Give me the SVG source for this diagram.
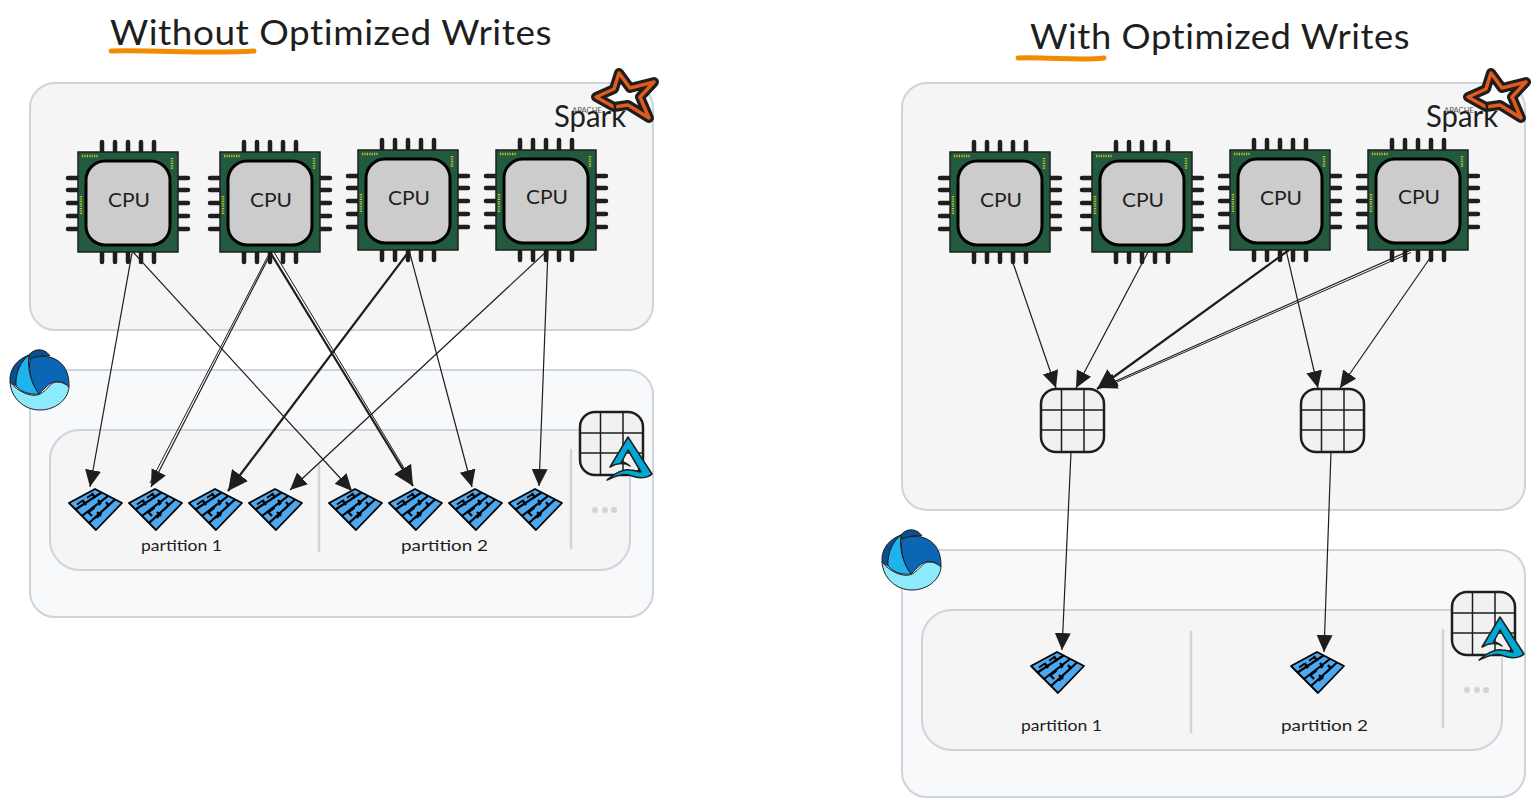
<svg xmlns="http://www.w3.org/2000/svg" width="1537" height="806" viewBox="0 0 1537 806">
<style>
text{font-family:"Lato","Noto Sans",sans-serif;fill:#1e1e1e}
.spark{fill:#f5f5f5;stroke:#ced4da;stroke-width:2}
.delta{fill:#f8f9fa;stroke:#ced4da;stroke-width:2}
.inner{fill:#f5f5f5;stroke:#ced4da;stroke-width:2}
.sep{fill:none;stroke:#ced4da;stroke-width:2.5;stroke-linecap:round}
.dot{fill:#ced4da}
.conn path{fill:none;stroke:#1e1e1e;stroke-width:1.2;marker-end:url(#ah)}
.conn path.thick{stroke-width:2.2;marker-end:url(#ahb)}
.conn path.ghost{marker-end:none;stroke-width:1}
.title{font-size:35px;letter-spacing:.5px}
.cpu{font-size:20px}
.part{font-size:15px}
.sp{font-size:30px}
.ap{font-size:8px;fill:#555}
.pin{stroke:#1e1e1e;stroke-width:4.500;stroke-linecap:round;fill:none}
.grid{fill:#f1f1f1;stroke:#1e1e1e;stroke-width:2.5}
.gl{stroke:#1e1e1e;stroke-width:1.500;fill:none}
.ul{fill:none;stroke:#f08c00;stroke-width:5;stroke-linecap:round}
.dk{stroke:#1e1e1e;stroke-width:1}
</style>
<defs>
<marker id="ah" markerUnits="userSpaceOnUse" markerWidth="20" markerHeight="18" refX="17" refY="8" orient="auto"><path d="M0 0L17 8L0 16Z" fill="#1e1e1e"/></marker>
<marker id="ahb" markerUnits="userSpaceOnUse" markerWidth="24" markerHeight="22" refX="20" refY="10" orient="auto"><path d="M0 0L20 10L0 20Z" fill="#1e1e1e"/></marker>
<g id="chip">
<path class="pin" d="M-26-60V-50M-13-60V-50M0-60V-50M13-60V-50M26-60V-50M-26 50V60M-13 50V60M0 50V60M13 50V60M26 50V60M-60-24H-50M-60-12H-50M-60 1H-50M-60 14H-50M-60 27H-50M50-24H60M50-12H60M50 1H60M50 14H60M50 27H60"/>
<rect x="-50" y="-50" width="100" height="100" fill="#215a3e" stroke="#1e1e1e" stroke-width="1.500"/>
<rect x="-42" y="-41" width="84" height="84" rx="19" fill="#cccccc" stroke="#000" stroke-width="3"/>
<path d="M-46-46H-30M44-44V-32M-47-6V12" stroke="#c9c32c" stroke-width="2.500" stroke-dasharray="1.200 1.200" fill="none"/>
</g>
<g id="pq">
<path d="M0-14L27 0L1 27L-26 0Z" fill="#4ea8f0" stroke="#000" stroke-width="1.800" stroke-linejoin="round"/>
<path d="M-19.500 6.500L6.500-10.500M-13 13L13-7M-6 20L20-3.500" stroke="#000" stroke-width="2.200" fill="none"/>
<path d="M-12.500-3L-9 2M-3-10L0-5M-7 9L-3 13M3-3L6 1M2 9L6 13M11-1L14 3" stroke="#000" stroke-width="2.200" fill="none"/>
<path d="M-18 1.500L-3-8.500M-6 9L5 1M2 15L16-1" stroke="#000" stroke-width="1.800" fill="none" stroke-dasharray="7 5"/>
</g>
<g id="tbl">
<rect x="0" y="0" width="63" height="63" rx="15" class="grid"/>
<path class="gl" d="M20.500 0V63M43 0V63M0 21H63M0 41H63"/>
</g>
<g id="dl">
<path class="dk" d="M-11-25C-7-31 4-33 10-24C4-25-4-24-10-20Z" fill="#0a4f8f"/>
<path class="dk" d="M-10-21C6-28 30-22 29 7C22 0 13-1 5 8C3 10 0 13-1 14C-8 5-12-8-10-21Z" fill="#0b66b5"/>
<path class="dk" d="M-11-25C-22-21-31-12-30 2L-24 6C-24-8-18-20-11-25Z" fill="#0a4f8f"/>
<path class="dk" d="M-11-25C-18-20-25-8-24 6C-18 13-8 15-1 14C-9 4-13-12-11-25Z" fill="#1cb4ef"/>
<path class="dk" d="M-30 2C-22 12-8 18 0 14C8 10 10 2 17 2C22 2 26 4 29 7C28 20 15 30 0 30C-16 30-29 18-30 2Z" fill="#8ceafc"/>
</g>
<g id="dlogo">
<path d="M48 25L30 55C38 50 46 51 50 54C45 50 42 50 41 51L48 38L61 60C57 60 55 58 50 58C42 56 34 62 27 68C34 65 44 60 52 64C60 67 68 66 72 62Z" fill="#00a9d4" stroke="#1e1e1e" stroke-width="1.500" stroke-linejoin="round"/>
</g>
<g id="sparklogo">
<path d="M619 73L630 88L654 82L640 97L649 118L628 105L614 107L596 97L614 89Z" fill="#fff" stroke="#1e1e1e" stroke-width="10" stroke-linejoin="round"/>
<path d="M619 73L630 88L654 82L640 97L649 118L628 105L614 107L596 97L614 89Z" fill="none" stroke="#e25a1c" stroke-width="3.500" stroke-linejoin="round"/>
<text x="572" y="113" class="ap" textLength="30" lengthAdjust="spacingAndGlyphs">APACHE</text>
<text x="554" y="127" class="sp" textLength="72" lengthAdjust="spacingAndGlyphs">Spark</text>
</g>
</defs>

<g id="left-spark"><rect x="30" y="83" width="623" height="247" rx="25" class="spark"/></g>
<g id="left-delta"><rect x="30" y="370" width="623" height="247" rx="25" class="delta"/></g>
<g id="left-storage"><rect x="50" y="430" width="580" height="140" rx="30" class="inner"/>
<path class="sep" d="M319 465V551M571 450V548"/>
<circle class="dot" cx="595" cy="510" r="3"/><circle class="dot" cx="605" cy="510" r="3"/><circle class="dot" cx="614" cy="510" r="3"/></g>
<g id="right-spark"><rect x="902" y="83" width="623" height="427" rx="25" class="spark"/></g>
<g id="right-delta"><rect x="902" y="550" width="623" height="247" rx="25" class="delta"/></g>
<g id="right-storage"><rect x="922" y="610" width="580" height="140" rx="30" class="inner"/>
<path class="sep" d="M1191 632V732M1443 630V727"/>
<circle class="dot" cx="1467" cy="690" r="3"/><circle class="dot" cx="1477" cy="690" r="3"/><circle class="dot" cx="1486" cy="690" r="3"/></g>

<g id="title-left"><text x="110" y="45" class="title" textLength="442" lengthAdjust="spacingAndGlyphs">Without Optimized Writes</text><path class="ul" d="M111 51C160 50 210 54 254 51"/></g>
<g id="title-right"><text x="1030" y="49" class="title" textLength="380" lengthAdjust="spacingAndGlyphs">With Optimized Writes</text><path class="ul" d="M1018 58C1050 57 1080 61 1104 58"/></g>

<g id="spark-logo-left"><use href="#sparklogo"/></g>
<g id="spark-logo-right"><use href="#sparklogo" x="872"/></g>
<g id="delta-logo-left"><use href="#dl" x="40" y="380"/></g>
<g id="delta-logo-right"><use href="#dl" x="912" y="560"/></g>

<g id="cpu-l1"><use href="#chip" x="128" y="202"/><text x="108" y="207" class="cpu" textLength="42" lengthAdjust="spacingAndGlyphs">CPU</text></g>
<g id="cpu-l2"><use href="#chip" x="270" y="202"/><text x="250" y="207" class="cpu" textLength="42" lengthAdjust="spacingAndGlyphs">CPU</text></g>
<g id="cpu-l3"><use href="#chip" x="408" y="200"/><text x="388" y="205" class="cpu" textLength="42" lengthAdjust="spacingAndGlyphs">CPU</text></g>
<g id="cpu-l4"><use href="#chip" x="546" y="200"/><text x="526" y="204" class="cpu" textLength="42" lengthAdjust="spacingAndGlyphs">CPU</text></g>
<g id="cpu-r1"><use href="#chip" x="1000" y="202"/><text x="980" y="207" class="cpu" textLength="42" lengthAdjust="spacingAndGlyphs">CPU</text></g>
<g id="cpu-r2"><use href="#chip" x="1142" y="202"/><text x="1122" y="207" class="cpu" textLength="42" lengthAdjust="spacingAndGlyphs">CPU</text></g>
<g id="cpu-r3"><use href="#chip" x="1280" y="200"/><text x="1260" y="205" class="cpu" textLength="42" lengthAdjust="spacingAndGlyphs">CPU</text></g>
<g id="cpu-r4"><use href="#chip" x="1418" y="200"/><text x="1398" y="204" class="cpu" textLength="42" lengthAdjust="spacingAndGlyphs">CPU</text></g>

<g id="pq-l1"><use href="#pq" x="95" y="503"/></g>
<g id="pq-l2"><use href="#pq" x="155" y="503"/></g>
<g id="pq-l3"><use href="#pq" x="215" y="503"/></g>
<g id="pq-l4"><use href="#pq" x="275" y="503"/></g>
<g id="pq-l5"><use href="#pq" x="355" y="503"/></g>
<g id="pq-l6"><use href="#pq" x="415" y="503"/></g>
<g id="pq-l7"><use href="#pq" x="475" y="503"/></g>
<g id="pq-l8"><use href="#pq" x="535" y="503"/></g>
<g id="pq-r1"><use href="#pq" x="1057" y="666"/></g>
<g id="pq-r2"><use href="#pq" x="1317" y="666"/></g>

<g id="label-l1"><text x="141" y="551" class="part" textLength="81" lengthAdjust="spacingAndGlyphs">partition 1</text></g>
<g id="label-l2"><text x="401" y="551" class="part" textLength="87" lengthAdjust="spacingAndGlyphs">partition 2</text></g>
<g id="label-r1"><text x="1021" y="731" class="part" textLength="81" lengthAdjust="spacingAndGlyphs">partition 1</text></g>
<g id="label-r2"><text x="1281" y="731" class="part" textLength="87" lengthAdjust="spacingAndGlyphs">partition 2</text></g>

<g id="table-r1"><use href="#tbl" x="1041" y="389"/></g>
<g id="table-r2"><use href="#tbl" x="1301" y="389"/></g>
<g id="table-left"><use href="#tbl" x="580" y="412"/><use href="#dlogo" x="580" y="412"/></g>
<g id="table-right"><use href="#tbl" x="1452" y="592"/><use href="#dlogo" x="1452" y="592"/></g>

<g id="connectors" class="conn">
<path d="M132 253L90 487"/>
<path d="M133 252L352 491"/>
<path d="M271 253L151 487"/>
<path class="ghost" d="M269.500 253L150 483"/>
<path class="thick" d="M270 252L413 486"/>
<path class="ghost" d="M274 252L410 478"/>
<path class="thick" d="M410 250L228 491"/>
<path d="M409 250L472 487"/>
<path d="M548 250L290 490"/>
<path d="M548 250L539 486"/>
<path d="M1012 260L1056 388"/>
<path d="M1148 252L1076 388"/>
<path class="thick" d="M1289 250L1097 389"/>
<path d="M1411 250L1100 388"/>
<path class="ghost" d="M1411 252.500L1108 386"/>
<path d="M1286 250L1318 388"/>
<path d="M1430 258L1340 388"/>
<path d="M1071 452L1062 650"/>
<path d="M1331 452L1324 652"/>
</g>
</svg>
